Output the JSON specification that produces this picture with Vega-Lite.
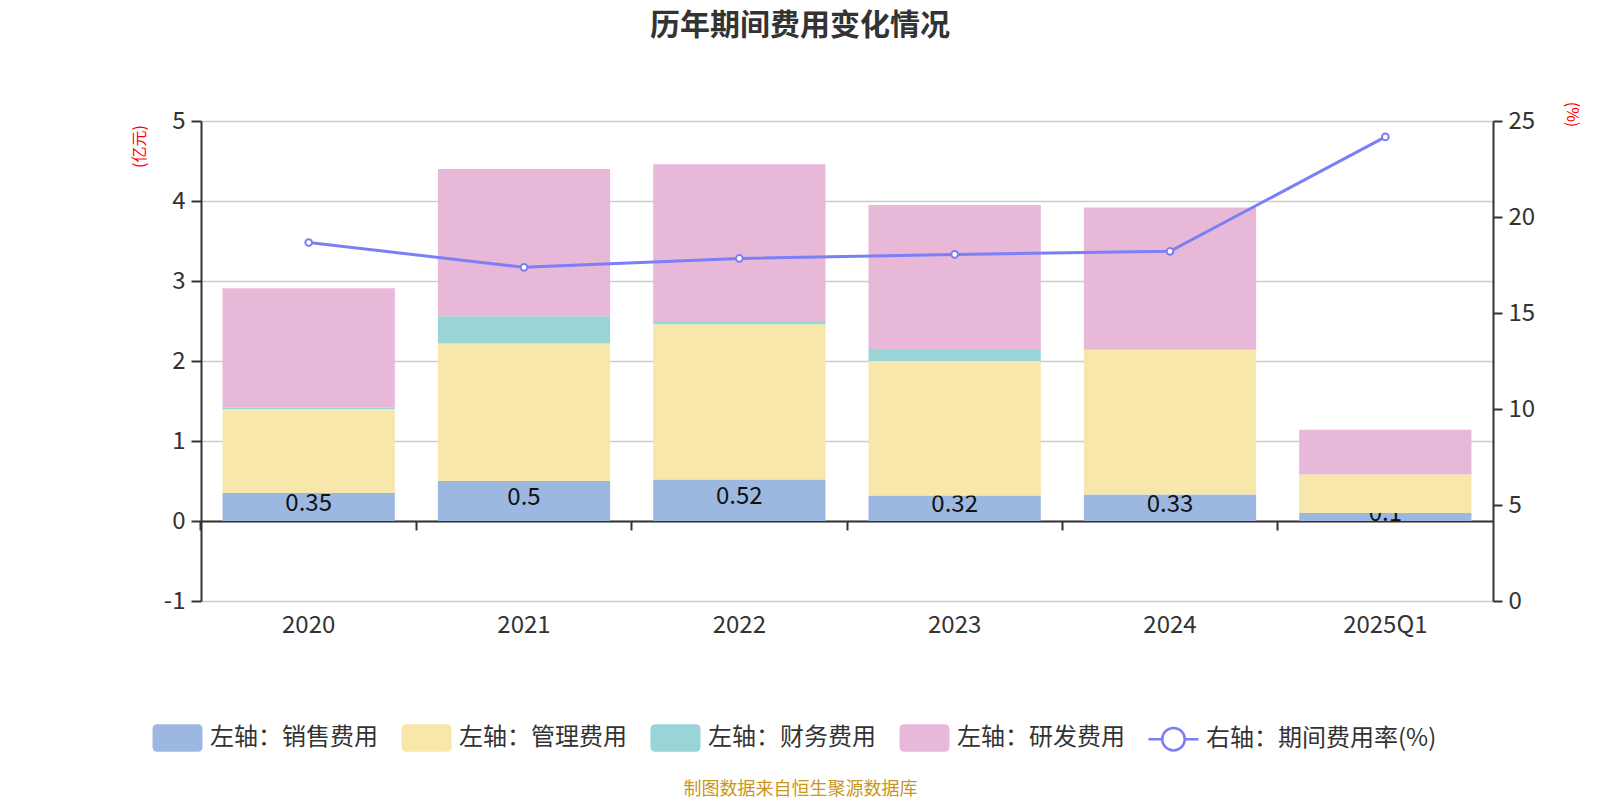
{
  "$schema": "https://vega.github.io/schema/vega-lite/v6.json",
  "autosize": {"type": "none"},
  "width": 1292,
  "height": 480,
  "padding": {"left": 201, "top": 121, "right": 107, "bottom": 199},
  "background": "#ffffff",
  "title": {
    "text": "历年期间费用变化情况",
    "fontSize": 30,
    "fontWeight": "bold",
    "color": "#333333",
    "anchor": "middle",
    "frame": "group",
    "dx": -47,
    "offset": 60
  },
  "datasets": {
    "bars": [
      {"year": "2020", "series": "左轴：销售费用", "value": 0.35},
      {"year": "2020", "series": "左轴：管理费用", "value": 1.05},
      {"year": "2020", "series": "左轴：财务费用", "value": 0.02},
      {"year": "2020", "series": "左轴：研发费用", "value": 1.49},
      {"year": "2021", "series": "左轴：销售费用", "value": 0.5},
      {"year": "2021", "series": "左轴：管理费用", "value": 1.72},
      {"year": "2021", "series": "左轴：财务费用", "value": 0.34},
      {"year": "2021", "series": "左轴：研发费用", "value": 1.84},
      {"year": "2022", "series": "左轴：销售费用", "value": 0.52},
      {"year": "2022", "series": "左轴：管理费用", "value": 1.94},
      {"year": "2022", "series": "左轴：财务费用", "value": 0.04},
      {"year": "2022", "series": "左轴：研发费用", "value": 1.96},
      {"year": "2023", "series": "左轴：销售费用", "value": 0.32},
      {"year": "2023", "series": "左轴：管理费用", "value": 1.68},
      {"year": "2023", "series": "左轴：财务费用", "value": 0.15},
      {"year": "2023", "series": "左轴：研发费用", "value": 1.8},
      {"year": "2024", "series": "左轴：销售费用", "value": 0.33},
      {"year": "2024", "series": "左轴：管理费用", "value": 1.81},
      {"year": "2024", "series": "左轴：财务费用", "value": 0},
      {"year": "2024", "series": "左轴：研发费用", "value": 1.78},
      {"year": "2025Q1", "series": "左轴：销售费用", "value": 0.1},
      {"year": "2025Q1", "series": "左轴：管理费用", "value": 0.48},
      {"year": "2025Q1", "series": "左轴：财务费用", "value": 0},
      {"year": "2025Q1", "series": "左轴：研发费用", "value": 0.56}
    ],
    "rate": [
      {"year": "2020", "rate": 18.67},
      {"year": "2021", "rate": 17.38},
      {"year": "2022", "rate": 17.84},
      {"year": "2023", "rate": 18.05},
      {"year": "2024", "rate": 18.21},
      {"year": "2025Q1", "rate": 24.17}
    ]
  },
  "resolve": {"scale": {"y": "independent"}, "axis": {"y": "independent"}},
  "layer": [
    {
      "data": {"name": "bars"},
      "transform": [{"filter": "datum.series === '左轴：销售费用'"}],
      "mark": {"type": "bar"},
      "encoding": {
        "x": {"field": "year", "type": "nominal", "sort": null, "title": "制图数据来自恒生聚源数据库"},
        "y": {
          "field": "value", "type": "quantitative",
          "scale": {"domain": [-1, 5], "nice": false, "zero": false},
          "axis": {
            "orient": "left",
            "values": [-1, 0, 1, 2, 3, 4, 5],
            "labelExpr": "'' + datum.value",
            "grid": true,
            "gridColor": "#cccccc",
            "gridWidth": 1.3,
            "domainColor": "#333333",
            "domainWidth": 2,
            "tickColor": "#333333",
            "tickWidth": 2,
            "tickSize": 10,
            "labelFontSize": 24,
            "labelColor": "#333333",
            "labelPadding": 6,
            "title": "(亿元)",
            "titleColor": "#ff0000",
            "titleFontSize": 16,
            "titleFontWeight": "normal",
            "titleAngle": -90,
            "titleX": -62,
            "titleY": 25,
            "titleAlign": "center",
            "titleBaseline": "middle"
          }
        },
        "color": {
          "field": "series", "type": "nominal",
          "scale": {
            "domain": ["左轴：销售费用", "左轴：管理费用", "左轴：财务费用", "左轴：研发费用", "右轴：期间费用率(%)"],
            "range": ["#9cb8e1", "#f8e7aa", "#99d4d6", "#e8b8d8", "#7b7ff5"]
          },
          "legend": {
            "orient": "none",
            "legendX": -50,
            "legendY": 590,
            "direction": "horizontal",
            "columns": 5,
            "title": null,
            "padding": 0,
            "labelFontSize": 24,
            "labelColor": "#333333",
            "labelBaseline": "middle",
            "labelLimit": 0,
            "labelOffset": 6,
            "columnPadding": 18,
            "symbolSize": 2500,
            "symbolStrokeWidth": 2.5,
            "symbolOpacity": 1,
            "encode": {
              "symbols": {
                "update": {
                  "shape": {"signal": "datum.value === '右轴：期间费用率(%)' ? 'M-1,0 L-0.45,0 M0.45,0 L1,0 M-0.45,0 A0.45,0.45 0 1,1 0.45,0 A0.45,0.45 0 1,1 -0.45,0 Z' : 'M-0.8,-0.55 L0.8,-0.55 Q1,-0.55 1,-0.35 L1,0.35 Q1,0.55 0.8,0.55 L-0.8,0.55 Q-1,0.55 -1,0.35 L-1,-0.35 Q-1,-0.55 -0.8,-0.55 Z'"},
                  "fill": {"signal": "datum.value === '右轴：期间费用率(%)' ? '#ffffff' : scale('color', datum.value)"},
                  "fillOpacity": {"signal": "datum.value === '右轴：期间费用率(%)' ? 0 : 1"},
                  "stroke": {"signal": "datum.value === '右轴：期间费用率(%)' ? '#7b7ff5' : 'transparent'"},
                  "opacity": {"value": 1}
                }
              }
            }
          }
        }
      }
    },
    {
      "data": {"name": "bars"},
      "transform": [{"filter": "datum.series === '左轴：销售费用'"}],
      "mark": {"type": "text", "fontSize": 24, "color": "#111111", "baseline": "middle", "dy": -3},
      "encoding": {
        "x": {"field": "year", "type": "nominal", "sort": null, "title": "制图数据来自恒生聚源数据库"},
        "y": {"field": "value", "type": "quantitative", "scale": {"domain": [-2, 10], "nice": false, "zero": false}, "axis": null},
        "text": {"field": "value", "type": "nominal"}
      }
    },
    {
      "data": {"name": "bars"},
      "transform": [
        {"stack": "value", "groupby": ["year"], "as": ["v0", "v1"]},
        {"filter": "datum.series !== '左轴：销售费用'"}
      ],
      "mark": {"type": "bar"},
      "encoding": {
        "x": {"field": "year", "type": "nominal", "sort": null, "title": "制图数据来自恒生聚源数据库"},
        "y": {"field": "v1", "type": "quantitative", "scale": {"domain": [-1, 5], "nice": false, "zero": false}, "axis": null},
        "y2": {"field": "v0"},
        "color": {"field": "series", "type": "nominal"}
      }
    },
    {
      "data": {"name": "rate"},
      "encoding": {
        "x": {"field": "year", "type": "nominal", "sort": null, "title": "制图数据来自恒生聚源数据库"},
        "y": {
          "field": "rate", "type": "quantitative",
          "scale": {"domain": [0, 25], "nice": false, "zero": false},
          "axis": {
            "orient": "right",
            "values": [0, 5, 10, 15, 20, 25],
            "grid": false,
            "domainColor": "#333333",
            "domainWidth": 2,
            "tickColor": "#333333",
            "tickWidth": 2,
            "tickSize": 9,
            "labelFontSize": 24,
            "labelColor": "#333333",
            "labelPadding": 6,
            "title": "(%)",
            "titleColor": "#ff0000",
            "titleFontSize": 16,
            "titleFontWeight": "normal",
            "titleAngle": 90,
            "titleX": 78,
            "titleY": -7,
            "titleAlign": "center",
            "titleBaseline": "middle"
          }
        }
      },
      "layer": [
        {"mark": {"type": "line", "color": "#7b7ff5", "strokeWidth": 3}},
        {"mark": {"type": "point", "shape": "circle", "filled": true, "fill": "#ffffff", "stroke": "#7b7ff5", "strokeWidth": 2, "size": 45, "opacity": 1}}
      ]
    }
  ],
  "config": {
    "font": "Noto Sans CJK SC",
    "view": {"stroke": null},
    "scale": {"bandPaddingInner": 0.2, "bandPaddingOuter": 0.1},
    "axisX": {
      "offset": -80,
      "zindex": 1,
      "bandPosition": -0.125,
      "domainColor": "#333333",
      "domainWidth": 2,
      "tickColor": "#333333",
      "tickWidth": 2,
      "tickSize": 9,
      "labelAngle": 0,
      "labelFontSize": 24,
      "labelColor": "#333333",
      "labelBaseline": "middle",
      "labelPadding": 95,
      "grid": false,
      "titleColor": "#c9961d",
      "titleFontSize": 18,
      "titleFontWeight": "normal",
      "titleX": 599,
      "titleY": 268,
      "titleAlign": "center",
      "titleBaseline": "middle",
      "titleAngle": 0
    }
  }
}
